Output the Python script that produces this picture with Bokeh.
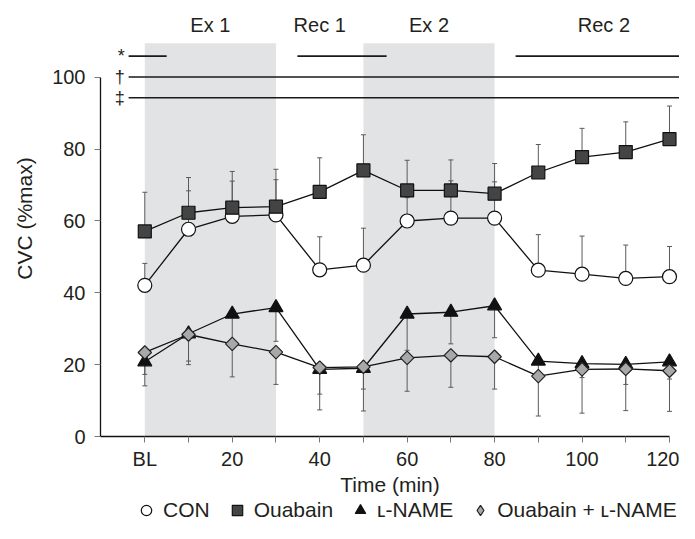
import math
from bokeh.plotting import figure
from bokeh.layouts import column
from bokeh.models import Range1d, FixedTicker, Legend, LegendItem
from bokeh.core.properties import value
from bokeh.embed import file_html
from bokeh.resources import INLINE

# ---------------- data ----------------
time_min = [0, 10, 20, 30, 40, 50, 60, 70, 80, 90, 100, 110, 120]

con_mean = [42.1, 57.7, 61.3, 61.7, 46.4, 47.7, 60.0, 60.8, 60.8, 46.3, 45.2, 44.0, 44.5]
con_err_top = [48.2, 68.4, 71.1, 71.5, 55.6, 58.0, 66.5, 71.2, 70.9, 56.2, 55.8, 53.3, 52.9]

oua_mean = [57.1, 62.3, 63.7, 64.0, 68.1, 74.1, 68.5, 68.5, 67.6, 73.5, 77.8, 79.2, 82.8]
oua_err_top = [68.0, 72.1, 73.8, 74.4, 77.6, 84.0, 76.9, 77.0, 76.0, 81.3, 85.8, 87.6, 92.0]

lname_mean = [20.8, 28.6, 34.1, 35.9, 18.7, 19.0, 34.1, 34.6, 36.4, 21.0, 20.3, 20.1, 20.8]
lname_err_bot = [17.3, 21.0, 26.0, 26.5, 11.8, 13.2, 24.0, 25.8, 27.5, 17.5, 16.4, 14.5, 16.0]

oual_mean = [23.4, 28.4, 25.8, 23.5, 19.2, 19.4, 21.9, 22.6, 22.2, 16.8, 18.7, 18.8, 18.3]
oual_err_bot = [14.1, 20.0, 16.6, 14.5, 7.4, 7.1, 12.6, 13.7, 13.2, 5.7, 6.5, 7.2, 7.0]

series_names = ["CON", "Ouabain", "\u029f-NAME", "Ouabain + \u029f-NAME"]

xtick_values = [0, 10, 20, 30, 40, 50, 60, 70, 80, 90, 100, 110, 120]
xtick_labels = ["BL", "", "20", "", "40", "", "60", "", "80", "", "100", "", "120"]
ytick_values = [0, 20, 40, 60, 80, 100]

phase_labels = ["Ex 1", "Rec 1", "Ex 2", "Rec 2"]
phase_centers = [15, 40, 65, 105]
exercise_start = [0, 50]
exercise_end = [30, 80]

sig_symbols = ["*", "\u2020", "\u2021"]
sig_levels = [105.9, 100.1, 94.3]
sig_x0 = [-3.7, 34.9, 84.8, -3.7, -3.7]
sig_x1 = [5.0, 55.3, 126.0, 126.0, 126.0]
sig_y = [105.9, 105.9, 105.9, 100.1, 94.3]

# ---------------- styles ----------------
FONT = "Liberation Sans"
TXT = "#231f20"
x_start = -10.13
styles = [
    dict(marker="circle", size=14, fill_color="white", line_color="#111111", line_width=1.2),
    dict(marker="square", size=13, fill_color="#444444", line_color="#111111", line_width=1.2),
    dict(marker="triangle", size=14, fill_color="#111111", line_color="#111111", line_width=1.2),
    dict(marker="square", size=9.5, angle=math.pi / 4, fill_color="#a8a8a8",
         line_color="#222222", line_width=1.2),
]

# ---------------- main figure ----------------
p = figure(width=679, height=498,
           x_range=Range1d(x_start, 122.29), y_range=Range1d(0, 121.39),
           output_backend="svg", toolbar_location=None,
           min_border_left=100, min_border_bottom=61, min_border_top=0, min_border_right=0)
p.outline_line_color = None
p.xgrid.visible = False
p.ygrid.visible = False

p.quad(left=exercise_start, right=exercise_end, bottom=0, top=109.5,
       fill_color="#e2e3e5", line_color=None)

p.segment(x0=sig_x0, y0=sig_y, x1=sig_x1, y1=sig_y, line_color="#1a1a1a", line_width=1.6)
p.text(x=[-4.6] * 3, y=sig_levels, text=sig_symbols, text_font=value(FONT),
       text_font_size=value("18px"), text_align="right", text_baseline="middle",
       text_color=TXT)

p.text(x=phase_centers, y=[114.7] * 4, text=phase_labels, text_font=value(FONT),
       text_font_size=value("20px"), text_align="center", text_baseline="middle",
       text_color=TXT)

err_col = "#5a5a5a"
for mean, err in [(con_mean, con_err_top), (oua_mean, oua_err_top),
                  (lname_mean, lname_err_bot), (oual_mean, oual_err_bot)]:
    p.segment(x0=time_min, y0=mean, x1=time_min, y1=err, line_color=err_col, line_width=1)
    p.scatter(x=time_min, y=err, marker="dash", size=5, line_color=err_col, line_width=1)

means = [con_mean, oua_mean, lname_mean, oual_mean]
for mean in means:
    p.line(time_min, mean, line_color="#111111", line_width=1.3)
for mean, st in zip(means, styles):
    p.scatter(time_min, mean, **st)

for ax in (p.xaxis[0], p.yaxis[0]):
    ax.axis_line_color = "#111111"
    ax.axis_line_width = 1.3
    ax.major_tick_line_color = "#777777"
    ax.major_tick_out = 6
    ax.major_tick_in = 0
    ax.minor_tick_line_color = None
    ax.major_label_text_font = FONT
    ax.major_label_text_font_size = "20px"
    ax.major_label_text_color = TXT
    ax.axis_label_text_font = FONT
    ax.axis_label_text_font_size = "21px"
    ax.axis_label_text_font_style = "normal"
    ax.axis_label_text_color = TXT

p.xaxis.ticker = FixedTicker(ticks=xtick_values)
p.xaxis.major_label_overrides = {v: l for v, l in zip(xtick_values, xtick_labels)}
p.xaxis.bounds = (x_start, time_min[-1])
p.xaxis.major_label_standoff = 5
p.xaxis.axis_label = "Time (min)"
p.xaxis.axis_label_standoff = 0

p.yaxis.ticker = FixedTicker(ticks=ytick_values)
p.yaxis.bounds = (ytick_values[0], ytick_values[-1])
p.yaxis.major_label_standoff = 9
p.yaxis.axis_label = "CVC (%max)"
p.yaxis.axis_label_standoff = 13

# ---------------- legend strip ----------------
lg = figure(width=679, height=25, x_range=Range1d(0, 1), y_range=Range1d(0, 1),
            output_backend="svg", toolbar_location=None,
            x_axis_location=None, y_axis_location=None, min_border=0)
lg.outline_line_color = None
lg.xgrid.visible = False
lg.ygrid.visible = False
legend_styles = [dict(st) for st in styles]
legend_styles[3].pop("angle")
legend_styles[3]["marker"] = "diamond"
# swatch-only renderers (a single undefined point, so nothing is drawn in the strip)
dummies = [lg.scatter(x=[math.nan], y=[math.nan], **st) for st in legend_styles]
legend = Legend(items=[LegendItem(label=n, renderers=[r]) for n, r in zip(series_names, dummies)],
                orientation="horizontal", location=(33, 0),
                glyph_width=26, glyph_height=26, label_standoff=4, spacing=14,
                padding=0, margin=0, border_line_color=None, background_fill_alpha=0,
                label_text_font=FONT, label_text_font_size="21px", label_text_color=TXT)
lg.add_layout(legend)

layout = column(p, lg, spacing=0)
open("out.html", "w").write(file_html(layout, INLINE))
